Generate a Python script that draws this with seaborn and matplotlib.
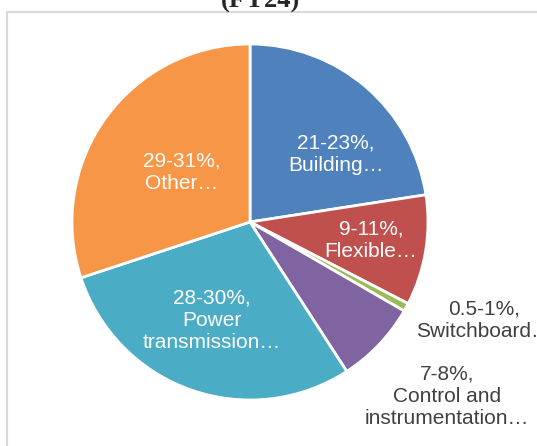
import matplotlib
matplotlib.use("Agg")
import matplotlib.pyplot as plt
import seaborn as sns
from matplotlib.patches import Rectangle

# Segment shares (FY24), drawn clockwise from the top
segments = ["Building", "Flexible", "Switchboard", "Control and instrumentation",
            "Power transmission", "Other"]
shares = [22.5, 10.0, 0.75, 7.5, 29.0, 30.0]
labels = ["21-23%,\nBuilding…", "9-11%,\nFlexible…", "0.5-1%,\nSwitchboard…",
          "7-8%,\nControl and\ninstrumentation…", "28-30%,\nPower\ntransmission…",
          "29-31%,\nOther…"]
colors = ["#4F81BD", "#C0504D", "#9BBB59", "#8064A2", "#4BACC6", "#F79646"]

sns.set_style("white")
plt.rcParams["font.family"] = ["Liberation Sans", "DejaVu Sans"]

W, H = 537, 446
fig = plt.figure(figsize=(W / 100, H / 100), dpi=100)

# light chart frame (right/bottom edges fall outside the picture)
fig.patches.append(Rectangle((7.5 / W, -0.1), 1.2, 1 - 11.5 / H + 0.1, transform=fig.transFigure,
                             fill=False, edgecolor="#D9D9D9", linewidth=1.5))

fig.text(261 / W, 1 - 8 / H, "(FY24)", ha="center", va="baseline",
         fontsize=19, fontweight="bold", family="Liberation Serif")

cx, cy, r = 250, 222, 178
ax = fig.add_axes([(cx - r) / W, (H - cy - r) / H, 2 * r / W, 2 * r / H])
wedges, _ = ax.pie(shares, colors=colors, startangle=90, counterclock=False,
                   wedgeprops=dict(edgecolor="white", linewidth=2))
ax.set_xlim(-1, 1)
ax.set_ylim(-1, 1)
ax.set_aspect("auto")
ax.axis("off")

# label positions in pixel coords (center of text block)
label_pos = [(336, 154), (371, 240), (484, 320), (447, 396), (212, 320), (182, 172)]
label_col = ["white", "white", "#404040", "#404040", "white", "white"]
for lab, (px, py), col in zip(labels, label_pos, label_col):
    fig.text(px / W, 1 - py / H, lab, ha="center", va="center", color=col,
             fontsize=15, linespacing=1.22)

fig.savefig("out.png", dpi=100)
